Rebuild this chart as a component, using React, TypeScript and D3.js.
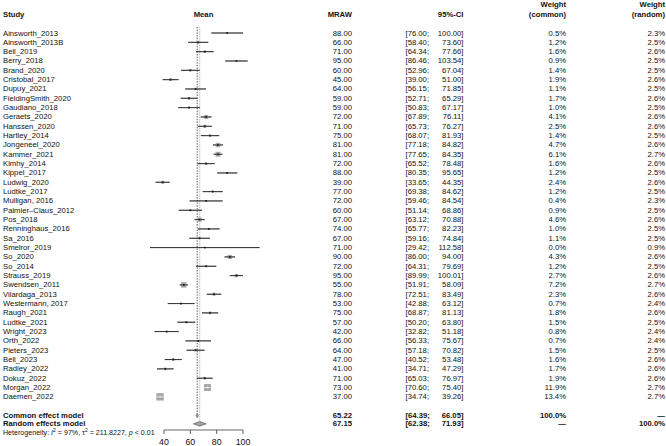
import * as d3 from "d3";

const studies = [
  "Ainsworth_2013", "Ainsworth_2013B", "Bell_2019", "Berry_2018", "Brand_2020",
  "Cristobal_2017", "Dupuy_2021", "FieldingSmith_2020", "Gaudiano_2018", "Geraets_2020",
  "Hanssen_2020", "Hartley_2014", "Jongeneel_2020", "Kammer_2021", "Kimhy_2014",
  "Kippel_2017", "Ludwig_2020", "Ludtke_2017", "Mulligan, 2016", "Palmier\u2013Claus_2012",
  "Pos_2018", "Renninghaus_2016", "Sa_2016", "Smelror_2019", "So_2020",
  "So_2014", "Strauss_2019", "Swendsen_2011", "Vilardaga_2013", "Westermann, 2017",
  "Raugh_2021", "Ludtke_2021", "Wright_2023", "Orth_2022", "Pieters_2023",
  "Bell_2023", "Radley_2022", "Dokuz_2022", "Morgan_2022", "Daemen_2022",
];
const means = [
  88, 66, 71, 95, 60, 45, 64, 59, 59, 72, 71, 75, 81, 81, 72, 88, 39, 77, 72, 60,
  67, 74, 67, 71, 90, 72, 95, 55, 78, 53, 75, 57, 42, 66, 64, 47, 41, 71, 73, 37,
];
const lower = [
  76.0, 58.4, 64.34, 86.46, 52.96, 39.0, 56.15, 52.71, 50.83, 67.89, 65.73, 68.07, 77.18, 77.65,
  65.52, 80.35, 33.65, 69.38, 59.46, 51.14, 63.12, 65.77, 59.16, 29.42, 86.0, 64.31, 89.99, 51.91,
  72.51, 42.88, 68.87, 50.2, 32.82, 56.33, 57.18, 40.52, 34.71, 65.03, 70.6, 34.74,
];
const upper = [
  100.0, 73.6, 77.66, 103.54, 67.04, 51.0, 71.85, 65.29, 67.17, 76.11, 76.27, 81.93, 84.82, 84.35,
  78.48, 95.65, 44.35, 84.62, 84.54, 68.86, 70.88, 82.23, 74.84, 112.58, 94.0, 79.69, 100.01, 58.09,
  83.49, 63.12, 81.13, 63.8, 51.18, 75.67, 70.82, 53.48, 47.29, 76.97, 75.4, 39.26,
];
const weightCommon = [
  0.5, 1.2, 1.6, 0.9, 1.4, 1.9, 1.1, 1.7, 1.0, 4.1, 2.5, 1.4, 4.7, 6.1, 1.6, 1.2, 2.4, 1.2, 0.4, 0.9,
  4.6, 1.0, 1.1, 0.0, 4.3, 1.2, 2.7, 7.2, 2.3, 0.7, 1.8, 1.5, 0.8, 0.7, 1.5, 1.6, 1.7, 1.9, 11.9, 13.4,
];
const weightRandom = [
  2.3, 2.5, 2.6, 2.5, 2.5, 2.6, 2.5, 2.6, 2.5, 2.6, 2.6, 2.5, 2.6, 2.7, 2.6, 2.5, 2.6, 2.5, 2.3, 2.5,
  2.6, 2.5, 2.5, 0.9, 2.6, 2.5, 2.6, 2.7, 2.6, 2.4, 2.6, 2.5, 2.4, 2.4, 2.5, 2.6, 2.6, 2.6, 2.7, 2.7,
];

// pooled estimates
const common = { label: "Common effect model", mean: 65.22, lo: 64.39, hi: 66.05, wc: "100.0%", wr: "\u2014" };
const random = { label: "Random effects model", mean: 67.15, lo: 62.38, hi: 71.93, wc: "\u2014", wr: "100.0%" };
const axisTicks = [40, 60, 80, 100];

const W = 666;
const H = 446;
const FS = 7.7;
const font = "'Liberation Sans', Arial, Helvetica, sans-serif";

export default function App() {
  const x = d3.scaleLinear().domain([40, 100]).range([164, 243]);
  const rowY = (i: number) => 33 + i * 9.33;
  const yCommon = rowY(41);
  const yRandom = rowY(42) - 1;
  const axisY = 430;

  const colMraw = 352;
  const colCiL = 405.5;
  const colCiR = 463.5;
  const colWc = 566;
  const colWr = 665;

  const fmt = d3.format(".2f");
  const sq = (w: number) => 2 * Math.sqrt(w);

  const diamond = (m: number, lo: number, hi: number, y: number, h: number) =>
    `M${x(lo)},${y} L${x(m)},${y - h} L${x(hi)},${y} L${x(m)},${y + h} Z`;

  return (
    <svg
      width={W}
      height={H}
      style={{ position: "absolute", left: 0, top: 0, background: "#fff" }}
      fontFamily={font}
      fontSize={FS}
    >
      {/* headers */}
      <g fontWeight="bold" dominantBaseline="central" fill="#111">
        <text x={3} y={14}>Study</text>
        <text x={x(70)} y={14} textAnchor="middle">Mean</text>
        <text x={colMraw} y={14} textAnchor="end">MRAW</text>
        <text x={colCiR} y={14} textAnchor="end">95%-CI</text>
        <text x={colWc} y={4.5} textAnchor="end">Weight</text>
        <text x={colWc} y={14} textAnchor="end">(common)</text>
        <text x={colWr} y={4.5} textAnchor="end">Weight</text>
        <text x={colWr} y={14} textAnchor="end">(random)</text>
      </g>

      {/* reference lines */}
      <line x1={x(common.mean)} x2={x(common.mean)} y1={27} y2={yCommon - 3}
        stroke="#333" strokeWidth={0.8} strokeDasharray="1.5,1.2" />
      <line x1={x(random.mean)} x2={x(random.mean)} y1={27} y2={yRandom - 2.5}
        stroke="#999" strokeWidth={0.8} strokeDasharray="1,0.8" />

      {/* study rows */}
      {studies.map((s, i) => {
        const y = rowY(i);
        const cx = x(means[i]);
        const side = sq(weightCommon[i]);
        const inside = x(lower[i]) >= cx - side / 2 && x(upper[i]) <= cx + side / 2;
        return (
          <g key={s}>
            <text x={3} y={y} dominantBaseline="central" fill="#111">{s}</text>
            <line x1={x(lower[i])} x2={x(upper[i])} y1={y} y2={y} stroke="#222" strokeWidth={0.7} />
            {side > 0 && (
              <rect x={cx - side / 2} y={y - side / 2} width={side} height={side} fill="#a6a6a6" />
            )}
            {inside ? (
              <>
                <line x1={x(lower[i])} x2={x(upper[i])} y1={y} y2={y} stroke="#fff" strokeWidth={0.7} />
                <line x1={cx} x2={cx} y1={y - 1} y2={y + 1} stroke="#fff" strokeWidth={0.7} />
              </>
            ) : (
              <>
                <line x1={x(lower[i])} x2={x(upper[i])} y1={y} y2={y} stroke="#222" strokeWidth={0.7} />
                <rect x={cx - 0.8} y={y - 0.8} width={1.6} height={1.6} fill="#111" />
              </>
            )}
            <text x={colMraw} y={y} textAnchor="end" dominantBaseline="central" fill="#111">{fmt(means[i])}</text>
            <text x={colCiL} y={y} dominantBaseline="central" fill="#111">[{fmt(lower[i])};</text>
            <text x={colCiR} y={y} textAnchor="end" dominantBaseline="central" fill="#111">{fmt(upper[i])}]</text>
            <text x={colWc} y={y} textAnchor="end" dominantBaseline="central" fill="#111">{weightCommon[i].toFixed(1)}%</text>
            <text x={colWr} y={y} textAnchor="end" dominantBaseline="central" fill="#111">{weightRandom[i].toFixed(1)}%</text>
          </g>
        );
      })}

      {/* pooled rows */}
      {[
        { m: common, y: yCommon, h: 2.2 },
        { m: random, y: yRandom, h: 2.3 },
      ].map(({ m, y, h }) => (
        <g key={m.label}>
          <path d={diamond(m.mean, m.lo, m.hi, y, h)} fill="#a6a6a6" stroke="#444" strokeWidth={0.6} />
          <g fontWeight="bold" dominantBaseline="central" fill="#111">
            <text x={3} y={y}>{m.label}</text>
            <text x={colMraw} y={y} textAnchor="end">{fmt(m.mean)}</text>
            <text x={colCiL} y={y}>[{fmt(m.lo)};</text>
            <text x={colCiR} y={y} textAnchor="end">{fmt(m.hi)}]</text>
            <text x={colWc} y={y} textAnchor="end">{m.wc}</text>
            <text x={colWr} y={y} textAnchor="end">{m.wr}</text>
          </g>
        </g>
      ))}

      {/* heterogeneity */}
      <text x={3} y={433} fontSize={7.1} dominantBaseline="central" fill="#111">
        Heterogeneity: <tspan fontStyle="italic">I</tspan>
        <tspan dy={-2.7} fontSize={5}>2</tspan>
        <tspan dy={2.7}> = 97%, {"\u03c4"}</tspan>
        <tspan dy={-2.7} fontSize={5}>2</tspan>
        <tspan dy={2.7}> = 211.8227, </tspan>
        <tspan fontStyle="italic">p</tspan> &lt; 0.01
      </text>

      {/* axis */}
      <g stroke="#222" strokeWidth={0.7}>
        <line x1={x(40)} x2={x(100)} y1={axisY} y2={axisY} />
        {axisTicks.map((t) => (
          <line key={t} x1={x(t)} x2={x(t)} y1={axisY} y2={axisY + 4} />
        ))}
      </g>
      {axisTicks.map((t) => (
        <text key={t} x={x(t)} y={441.5} textAnchor="middle" dominantBaseline="central" fontSize={8.8} fill="#111">
          {t}
        </text>
      ))}
    </svg>
  );
}
